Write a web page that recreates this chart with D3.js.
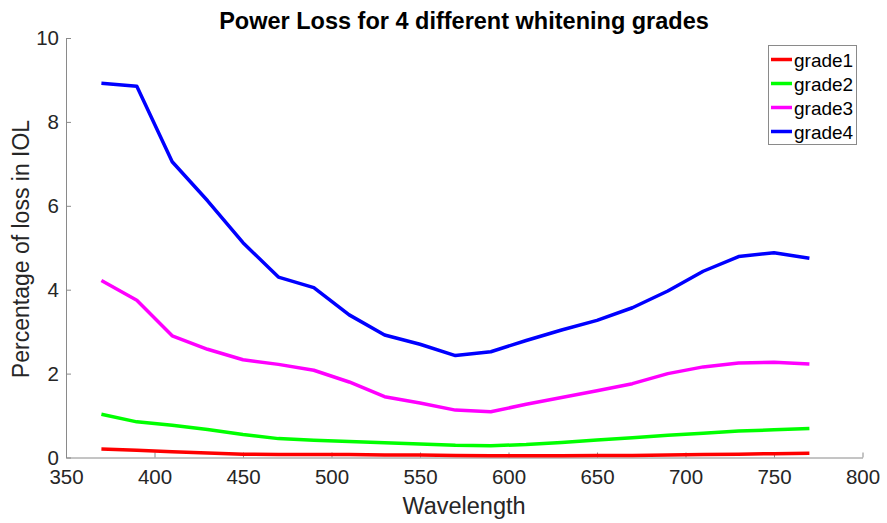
<!DOCTYPE html>
<html>
<head>
<meta charset="utf-8">
<script src="https://cdn.jsdelivr.net/npm/d3@7"></script>
<style>
  body { margin: 0; background: #fff; }
  text { font-family: "Liberation Sans", Arial, sans-serif; }
</style>
</head>
<body>
<div class="chart"></div>
<script>
// wavelengths and series values
var wavelength = [370, 390, 410, 430, 450, 470, 490, 510, 530, 550, 570, 590, 610, 630, 650, 670, 690, 710, 730, 750, 770];
var grade1 = [0.20, 0.17, 0.14, 0.11, 0.08, 0.07, 0.07, 0.07, 0.06, 0.06, 0.05, 0.04, 0.04, 0.04, 0.05, 0.05, 0.06, 0.07, 0.08, 0.09, 0.10];
var grade2 = [1.03, 0.85, 0.77, 0.67, 0.55, 0.45, 0.41, 0.38, 0.35, 0.32, 0.29, 0.28, 0.31, 0.36, 0.42, 0.47, 0.53, 0.58, 0.63, 0.66, 0.69];
var grade3 = [4.22, 3.75, 2.90, 2.58, 2.33, 2.22, 2.08, 1.80, 1.45, 1.30, 1.13, 1.09, 1.27, 1.43, 1.59, 1.76, 2.00, 2.16, 2.25, 2.27, 2.23];
var grade4 = [8.92, 8.85, 7.05, 6.12, 5.12, 4.30, 4.05, 3.40, 2.92, 2.70, 2.43, 2.52, 2.79, 3.04, 3.27, 3.57, 3.97, 4.44, 4.79, 4.88, 4.75];
var seriesNames = ["grade1", "grade2", "grade3", "grade4"];
var seriesColors = ["#ff0000", "#00ff00", "#ff00ff", "#0000ff"];
var xTicks = [350, 400, 450, 500, 550, 600, 650, 700, 750, 800];
var yTicks = [0, 2, 4, 6, 8, 10];

var allSeries = [grade1, grade2, grade3, grade4];

var W = 887, H = 523;
var margin = {top: 38, right: 24, bottom: 66, left: 66};
var width = W - margin.left - margin.right,
    height = H - margin.top - margin.bottom;

var svg = d3.select(".chart")
  .append("svg")
    .attr("width", W)
    .attr("height", H);

var g = svg.append("g")
    .attr("transform", "translate(" + margin.left + "," + margin.top + ")");

var x = d3.scaleLinear().domain([350, 800]).range([0, width - 0.5]);
var y = d3.scaleLinear().domain([0, 10]).range([height + 0.5, 0]);

var axisColor = "#8a8a8a";
var labelColor = "#262626";

// axes, ticks pointing inward like matlab
var xAxis = g.append("g")
    .attr("transform", "translate(0," + (height + 0.5) + ")")
    .call(d3.axisBottom(x).tickValues(xTicks).tickSizeInner(-5).tickSizeOuter(0).tickPadding(12));
var yAxis = g.append("g")
    .call(d3.axisLeft(y).tickValues(yTicks).tickSizeInner(-5).tickSizeOuter(0).tickPadding(7));

[xAxis, yAxis].forEach(function(a) {
  a.select(".domain").attr("stroke", axisColor);
  a.selectAll(".tick line").attr("stroke", axisColor);
  a.selectAll(".tick text")
    .attr("fill", labelColor)
    .style("font-size", "20.5px")
    .style("font-family", "'Liberation Sans', Arial, sans-serif");
});

// lines
var line = d3.line()
  .x(function(d, i) { return x(wavelength[i]); })
  .y(function(d) { return y(d); });

g.selectAll(".series")
  .data(allSeries)
  .enter()
  .append("path")
    .attr("class", "series")
    .attr("d", line)
    .attr("fill", "none")
    .attr("stroke", function(d, i) { return seriesColors[i]; })
    .attr("stroke-width", 3.5)
    .attr("stroke-linejoin", "round");

// title and axis labels
svg.append("text")
  .attr("x", 464).attr("y", 29)
  .attr("text-anchor", "middle")
  .style("font-size", "23.5px")
  .style("font-weight", "bold")
  .attr("fill", "#000")
  .text("Power Loss for 4 different whitening grades");

svg.append("text")
  .attr("x", 464).attr("y", 514)
  .attr("text-anchor", "middle")
  .style("font-size", "23.5px")
  .attr("fill", labelColor)
  .text("Wavelength");

svg.append("text")
  .attr("transform", "translate(29,249) rotate(-90)")
  .attr("text-anchor", "middle")
  .style("font-size", "23px")
  .attr("fill", labelColor)
  .text("Percentage of loss in IOL");

// legend
var legend = svg.append("g").attr("transform", "translate(768,45)");
legend.append("rect")
  .attr("x", 0.5).attr("y", 0.5)
  .attr("width", 88).attr("height", 99)
  .attr("fill", "#fff")
  .attr("stroke", axisColor);

var item = legend.selectAll(".item")
  .data(seriesNames)
  .enter()
  .append("g")
    .attr("class", "item")
    .attr("transform", function(d, i) { return "translate(0," + (14.5 + i * 24) + ")"; });

item.append("line")
  .attr("x1", 3).attr("x2", 24)
  .attr("stroke", function(d, i) { return seriesColors[i]; })
  .attr("stroke-width", 3.5);

item.append("text")
  .attr("x", 26).attr("y", 7)
  .style("font-size", "19px")
  .attr("fill", "#000")
  .text(function(d) { return d; });
</script>
</body>
</html>
